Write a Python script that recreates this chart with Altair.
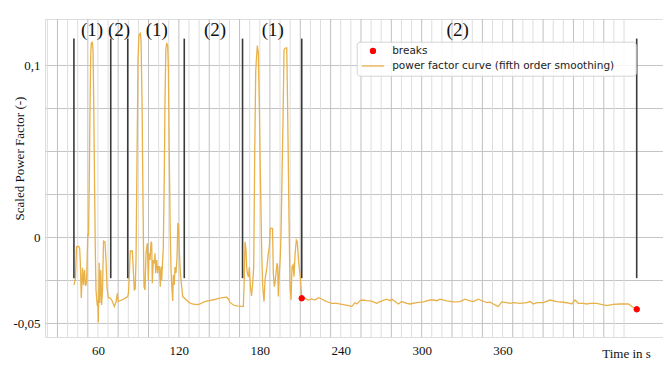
import altair as alt
import pandas as pd

# ---------------- data ----------------
T = [42.26, 43.37, 44.11, 45.74, 46.49, 46.93, 47.67, 48.56, 49.30, 50.04, 50.79, 51.53,
     52.49, 53.01, 53.60, 54.12, 54.64, 55.09, 55.83, 56.35, 56.87, 57.46, 58.05, 58.57,
     59.09, 59.53, 59.91, 60.28, 60.94, 61.39, 62.13, 62.72, 63.39, 64.13, 65.24, 65.98,
     66.72, 67.69, 68.95, 70.21,
     71.17, 72.14, 73.40, 74.36, 75.10, 77.62, 79.33, 80.81, 82.07,
     82.67, 83.41, 83.93, 85.48, 86.23, 86.97, 87.63, 88.23, 88.97, 89.71, 90.45, 91.42,
     91.93, 92.68, 93.42, 93.79, 94.16, 94.90, 95.64, 96.61, 97.35, 97.87, 98.61, 99.35,
     99.87, 100.31, 101.05, 101.80, 102.31, 102.83, 103.57, 104.32, 104.76, 105.50, 106.24,
     106.76, 107.28, 108.47, 109.14, 109.73, 110.32, 110.99, 111.73, 112.25, 112.84, 113.58,
     114.18, 114.70, 115.44, 115.88, 116.55, 117.14, 117.88, 118.62, 119.22, 119.74, 120.33,
     121.07, 121.96, 122.85, 124.04,
     125.67, 127.52, 129.75, 131.97, 134.42, 136.42, 138.64, 141.61, 144.35, 146.80, 149.24,
     151.25, 153.70, 155.47, 156.66, 157.92, 160.37, 162.89, 165.33, 167.78, 168.52, 169.04,
     169.78, 170.30, 170.89, 171.63, 172.23, 173.12, 173.86, 174.75, 175.49, 176.23, 176.97,
     177.42, 178.16, 178.90, 179.57, 180.16, 181.42, 182.16, 183.13, 183.87, 184.61, 185.35,
     186.32, 187.06, 187.80, 189.43, 190.02, 190.76, 191.28, 192.02, 192.76, 193.28, 193.73,
     194.47, 195.21, 195.73, 196.25, 197.21, 197.95, 198.70, 199.96, 200.55, 201.66, 202.40,
     203.14, 203.89, 204.63, 205.37, 206.11, 207.08, 207.82, 208.56, 209.30, 210.04, 210.56,
     211.08,
     213.52, 215.97, 218.49, 220.94, 223.39, 225.91, 228.35, 230.80, 233.32, 237.03, 241.92,
     246.89, 248.15, 250.59, 251.85, 254.30, 255.56, 259.27, 262.98, 266.68, 269.13, 274.10,
     276.54, 277.80, 280.25, 282.70, 285.22, 288.92, 291.37, 296.34, 301.23, 306.20, 308.65,
     311.17, 313.61, 318.58, 323.47, 328.44, 332.15, 335.86, 338.30, 342.01, 345.72, 348.24,
     350.68, 353.13, 355.65, 356.84, 359.36, 363.06, 365.51, 367.96, 372.93, 377.89, 380.34,
     382.79, 385.31, 390.20, 395.17, 400.14, 405.03, 410.00, 411.26, 413.70, 416.15, 419.86,
     422.38, 424.83, 429.79, 437.21, 442.10, 447.07, 453.22, 455.74, 459.44]

V = [-0.0277, -0.0237, -0.0056, -0.0053, -0.0068, -0.0144, -0.0353, -0.0178, -0.0277, -0.0190,
     -0.0283, -0.0266, 0.0019, 0.0008, 0.0333, 0.0740, 0.1060, 0.1130, 0.1133, 0.1090, 0.0799,
     0.0333, -0.0074, -0.0306, -0.0359, -0.0399, -0.0365, -0.0495, -0.0149, -0.0382, -0.0190,
     -0.0394, -0.0306, -0.0022, -0.0027, -0.0132, -0.0289, -0.0353, -0.0353, -0.0365,
     -0.0382, -0.0402, -0.0378, -0.0326, -0.0374, -0.0365, -0.0359, -0.0351, -0.0345,
     -0.0324, -0.0190, -0.0080, -0.0080, -0.0190, -0.0306, -0.0301, -0.0132, 0.0449, 0.1031,
     0.1176, 0.1185, 0.1147, 0.0798, 0.0217, -0.0074, -0.0289, -0.0306, -0.0091, -0.0035,
     -0.0248, -0.0093, -0.0132, -0.0026, -0.0035, -0.0267, -0.0132, -0.0151, -0.0093, -0.0209,
     -0.0132, -0.0209, -0.0171, -0.0171, -0.0287, -0.0171, -0.0248, -0.0055, 0.0333, 0.0798,
     0.1089, 0.1130, 0.1112, 0.0972, 0.0507, 0.0042, -0.0190, -0.0277, -0.0370, -0.0219,
     -0.0277, -0.0173, -0.0208, -0.0120, 0.0083, 0.0066, -0.0074, -0.0202, -0.0277, -0.0345,
     -0.0353,
     -0.0365, -0.0379, -0.0388, -0.0390, -0.0391, -0.0385, -0.0376, -0.0370, -0.0365, -0.0362,
     -0.0355, -0.0353, -0.0350, -0.0349, -0.0359, -0.0379, -0.0394, -0.0399, -0.0401, -0.0403,
     -0.0237, -0.0026,
     -0.0074, -0.0178, -0.0213, -0.0231, -0.0173, -0.0295, -0.0341, -0.0266, -0.0171, 0.0490,
     0.0963, 0.1031, 0.1114, 0.1072, 0.0798, 0.0490, -0.0091, -0.0287, -0.0374, -0.0248,
     -0.0209, -0.0171, -0.0093, -0.0055, 0.0052, 0.0052, -0.0209, -0.0287, -0.0267, -0.0209,
     -0.0151, -0.0171, -0.0345, -0.0209, -0.0109, 0.0023, 0.0256, 0.0682, 0.1089, 0.1099,
     0.1101, 0.0798, 0.0101, -0.0287, -0.0365, -0.0171, -0.0161, -0.0229, -0.0103, -0.0016,
     -0.0027, -0.0120, -0.0180, -0.0229, -0.0287, -0.0355,
     -0.0355, -0.0365, -0.0359, -0.0365, -0.0351, -0.0359, -0.0370, -0.0378, -0.0384, -0.0384,
     -0.0392, -0.0399, -0.0403, -0.0380, -0.0388, -0.0369, -0.0365, -0.0369, -0.0372, -0.0384,
     -0.0374, -0.0360, -0.0369, -0.0360, -0.0374, -0.0388, -0.0374, -0.0384, -0.0388, -0.0380,
     -0.0376, -0.0365, -0.0365, -0.0369, -0.0360, -0.0370, -0.0376, -0.0374, -0.0360, -0.0370,
     -0.0374, -0.0360, -0.0372, -0.0380, -0.0378, -0.0388, -0.0399, -0.0403, -0.0376, -0.0380,
     -0.0384, -0.0380, -0.0384, -0.0380, -0.0374, -0.0388, -0.0380, -0.0380, -0.0365, -0.0374,
     -0.0378, -0.0384, -0.0388, -0.0365, -0.0384, -0.0384, -0.0388, -0.0384, -0.0384, -0.0398,
     -0.0390, -0.0388, -0.0388, -0.0403, -0.0419]

BREAK_T = [211.08, 459.44]
BREAK_V = [-0.0355, -0.0419]

SEG_T = [42.2, 69.5, 82.1, 124.0, 167.2, 211.1, 459.4]
SEG_LO = -0.0238
SEG_HI = 0.1155

PHASE_TEXT = ["(1)", "(2)", "(1)", "(2)", "(1)", "(2)"]
PHASE_T = [55.6, 75.6, 103.6, 146.8, 189.6, 326.7]
PHASE_V = 0.1205

SERIES = ["breaks", "power factor curve (fifth order smoothing)"]

X_LABEL_TICKS = [60, 120, 180, 240, 300, 360]
Y_LABEL_TICKS = [-0.05, 0, 0.1]
Y_LABEL_TEXT = ["-0,05", "0", "0,1"]
Y_GRID = [-0.05, -0.025, 0, 0.025, 0.05, 0.075, 0.1]
X_GRID_LIGHT = [7.5 * k for k in range(3, 61) if k % 3 != 1]
X_GRID_DARK = [7.5 * k for k in range(3, 61) if k % 3 == 1]

X_DOMAIN = [20.76, 478.9]
Y_DOMAIN = [-0.058, 0.1269]

# ---------------- tables ----------------
curve = pd.DataFrame({"t": T, "v": V})
breaks = pd.DataFrame({"t": BREAK_T, "v": BREAK_V, "series": SERIES[0]})
segs = pd.DataFrame({"t": SEG_T, "lo": SEG_LO, "hi": SEG_HI})
phases = pd.DataFrame({"t": PHASE_T, "v": PHASE_V, "txt": PHASE_TEXT})
grid_light = pd.DataFrame({"t": X_GRID_LIGHT})
grid_dark = pd.DataFrame({"t": X_GRID_DARK})

ORANGE = "#E8B14A"
SERIF = "Liberation Serif"


def label_expr(ticks, texts):
    expr = ""
    for v, s in zip(ticks, texts):
        expr += f"abs(datum.value - ({v})) < 1e-6 ? '{s}' : "
    return expr + "''"


x_scale = alt.Scale(domain=X_DOMAIN, nice=False, zero=False)
y_scale = alt.Scale(domain=Y_DOMAIN, nice=False, zero=False)

x_axis = alt.Axis(
    values=X_LABEL_TICKS, format="d", ticks=False, domain=False, grid=False,
    labelFont=SERIF, labelFontSize=13, labelColor="#111", labelPadding=7,
    title="Time in s", titleFont=SERIF, titleFontSize=13, titleFontWeight="normal",
    titleColor="#111", titleX=581, titleY=16, titleAlign="center", titleBaseline="middle",
)
y_axis = alt.Axis(
    values=Y_GRID, labelExpr=label_expr(Y_LABEL_TICKS, Y_LABEL_TEXT),
    ticks=False, domain=False, grid=True, gridColor="#c4c4c4", gridWidth=1,
    labelFont=SERIF, labelFontSize=13, labelColor="#111", labelPadding=5,
    labelOverlap=False,
    title="Scaled Power Factor (-)", titleFont=SERIF, titleFontSize=13,
    titleFontWeight="normal", titleColor="#111", titleX=-26, titleY=139,
    titleAlign="center", titleBaseline="middle", titleAngle=270,
)

gl = alt.Chart(grid_light).mark_rule(color="#dddddd", strokeWidth=1).encode(
    x=alt.X("t:Q", scale=x_scale, axis=x_axis), y=alt.value(0), y2=alt.value(318),
)
gd = alt.Chart(grid_dark).mark_rule(color="#c0c0c0", strokeWidth=1).encode(
    x="t:Q", y=alt.value(0), y2=alt.value(318),
)

line = alt.Chart(curve).mark_line(color=ORANGE, strokeWidth=1.3, clip=True).encode(
    x="t:Q",
    y=alt.Y("v:Q", scale=y_scale, axis=y_axis),
    order="t:Q",
)

rules = alt.Chart(segs).mark_rule(color="#3a3a3a", strokeWidth=1.6).encode(
    x="t:Q", y="lo:Q", y2="hi:Q"
)

legend = alt.Legend(
    title="\u00a0", titleOrient="right", titlePadding=18, titleFontSize=10,
    orient="none", legendX=311.7, legendY=22.7,
    fillColor="rgba(255,255,255,0.85)", strokeColor="#d4d4d4", cornerRadius=3,
    padding=4, symbolOffset=7, labelOffset=14, rowPadding=4, labelLimit=400,
    labelFont="DejaVu Sans", labelFontSize=10.5, labelColor="#222",
    symbolSize=25, symbolStrokeWidth=1.3,
)
pts = alt.Chart(breaks).mark_point(filled=True, size=30, opacity=1, strokeWidth=1).encode(
    x="t:Q", y="v:Q",
    fill=alt.Fill("series:N", scale=alt.Scale(domain=SERIES, range=["#ff0000", "transparent"]), legend=legend),
    stroke=alt.Stroke("series:N", scale=alt.Scale(domain=SERIES, range=["#ff0000", ORANGE]), legend=legend),
    shape=alt.Shape("series:N", scale=alt.Scale(domain=SERIES, range=["circle", "M-4.5,0H4.5"]), legend=legend),
)

labels = alt.Chart(phases).mark_text(
    font=SERIF, fontSize=19, color="#111", baseline="middle", align="center"
).encode(x="t:Q", y="v:Q", text="txt:N")

chart = alt.layer(gl, gd, line, rules, pts, labels).properties(
    width=618, height=318,
    autosize=alt.AutoSizeParams(type="none"),
    padding={"left": 45, "top": 19, "right": 0, "bottom": 40},
).configure_view(stroke="#b0b0b0", strokeWidth=1).configure(background="white")

chart.save("out.html", embed_options={"renderer": "svg", "actions": False})
